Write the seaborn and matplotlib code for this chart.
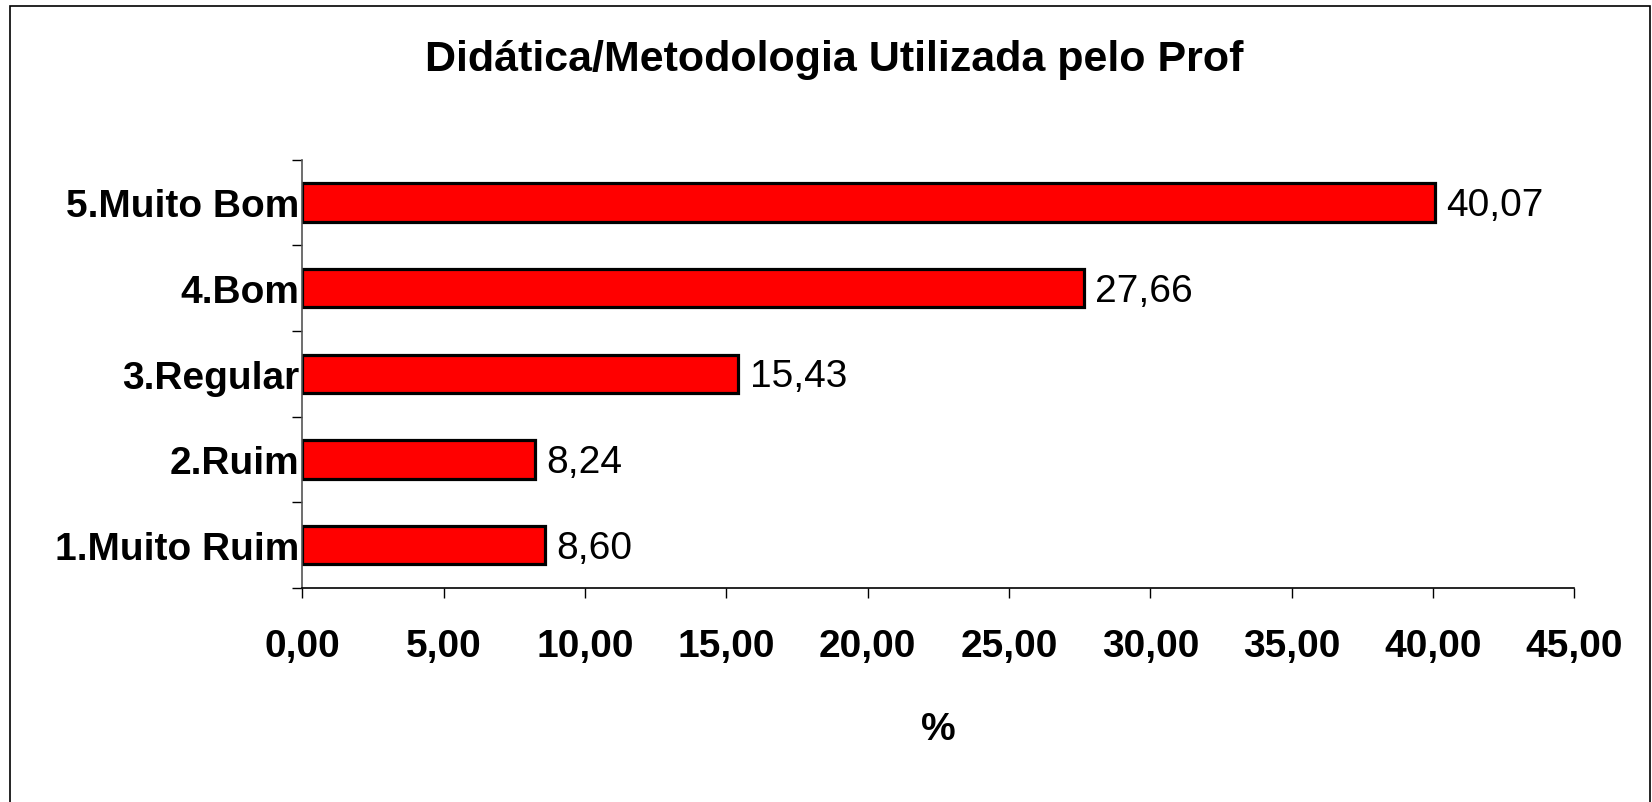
import numpy as np
import pandas as pd
import matplotlib
matplotlib.use("Agg")
import matplotlib.pyplot as plt
import seaborn as sns
from matplotlib.patches import Rectangle

categorias = ["5.Muito Bom", "4.Bom", "3.Regular", "2.Ruim", "1.Muito Ruim"]
valores = [40.07, 27.66, 15.43, 8.24, 8.60]
rotulos = ["40,07", "27,66", "15,43", "8,24", "8,60"]
xticks = [0, 5, 10, 15, 20, 25, 30, 35, 40, 45]
xticklabels = ["0,00", "5,00", "10,00", "15,00", "20,00", "25,00", "30,00", "35,00", "40,00", "45,00"]

sns.set_style("white")
plt.rcParams['font.family'] = ['Liberation Sans Narrow', 'Liberation Sans', 'DejaVu Sans']
plt.rcParams['text.color'] = 'black'
plt.rcParams['axes.labelcolor'] = 'black'
plt.rcParams['xtick.color'] = 'black'
plt.rcParams['ytick.color'] = 'black'

df = pd.DataFrame({"cat": categorias, "val": valores})

fig = plt.figure(figsize=(16.52, 8.03), dpi=100)
ax = fig.add_axes([0.183, 0.2665, 0.77, 0.5335])

sns.barplot(data=df, x="val", y="cat", order=categorias, orient="h",
            color="#FF0000", saturation=1, width=0.45,
            edgecolor="black", linewidth=2.3, ax=ax)

for i, (v, t) in enumerate(zip(valores, rotulos)):
    ax.annotate(t, (v, i + 0.03), xytext=(8, 0), textcoords="offset points",
                ha="left", va="center", fontsize=28)

ax.set_xlim(0, 45)
ax.set_ylim(4.5, -0.5)
ax.set_xticks(xticks)
ax.set_xticklabels(xticklabels, fontsize=28, fontweight="bold")
ax.set_yticks(range(len(categorias)))
ax.set_yticklabels(categorias, fontsize=28, fontweight="bold")
ax.set_yticks(np.arange(-0.5, 5, 1), minor=True)
ax.tick_params(axis="y", which="major", left=True, length=0, pad=2)
ax.tick_params(axis="y", which="minor", left=True, length=7, width=1, direction="out")
ax.tick_params(axis="x", which="major", bottom=True, length=7, width=1, direction="out", pad=22)

ax.set_ylabel("")
ax.set_xlabel("%", fontsize=28, fontweight="bold")
ax.xaxis.set_label_coords(0.5, -0.33)
ax.xaxis.label.set_va("center")

for s in ["top", "right"]:
    ax.spines[s].set_visible(False)
ax.spines["left"].set_color("#555555")
ax.spines["bottom"].set_color("black")
for s in ["left", "bottom"]:
    ax.spines[s].set_linewidth(1.2)

fig.text(0.505, 0.925, "Didática/Metodologia Utilizada pelo Prof",
         ha="center", va="center", fontsize=31, fontweight="bold")

fig.patches.append(Rectangle((0.006, -0.02), 0.9925, 1.011, transform=fig.transFigure,
                             fill=False, edgecolor="black", linewidth=1.2))

fig.savefig("out.png", dpi=100)
